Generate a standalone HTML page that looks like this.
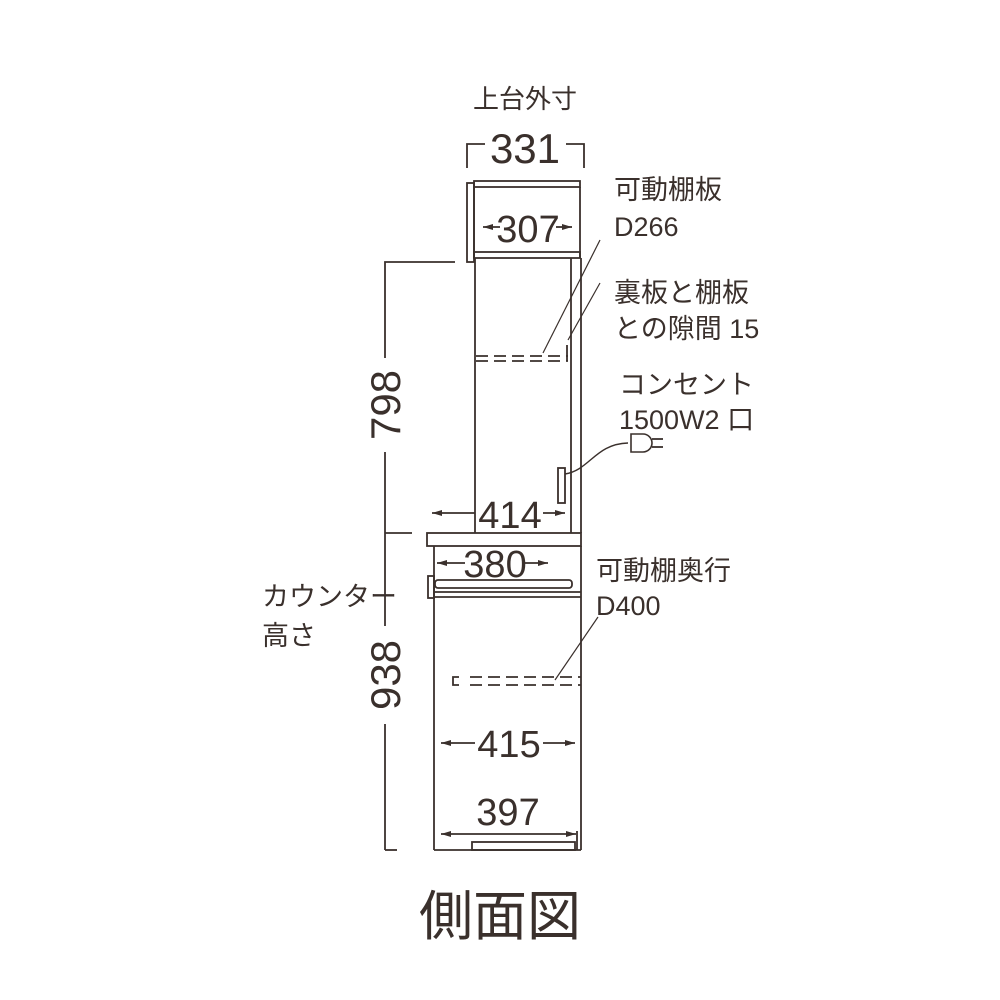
<!DOCTYPE html>
<html><head><meta charset="utf-8"><style>
html,body{margin:0;padding:0;background:#fff;width:1000px;height:1000px;overflow:hidden}
svg{display:block}
text{font-family:"Liberation Sans","Noto Sans CJK JP",sans-serif;fill:#3a302c}
</style></head><body>
<svg width="1000" height="1000" viewBox="0 0 1000 1000">
<defs>
<marker id="a" viewBox="0 0 10 6" refX="10" refY="3" markerWidth="10" markerHeight="6" orient="auto-start-reverse" markerUnits="userSpaceOnUse"><path d="M0,0 L10,3 L0,6z" fill="#3a302c"/></marker>
</defs>
<g stroke="#3a302c" stroke-width="1.8" fill="none">
<polyline points="467,168 467,144 485,144"/>
<polyline points="566,144 584,144 584,168"/>
<rect x="467" y="183" width="7" height="79"/>
<rect x="474" y="181" width="106" height="6"/>
<line x1="474" y1="187" x2="474" y2="258"/>
<line x1="580" y1="187" x2="580" y2="258"/>
<rect x="474" y="252" width="106" height="6"/>
<line x1="483" y1="227" x2="500" y2="227" marker-start="url(#a)"/>
<line x1="556" y1="227" x2="572" y2="227" marker-end="url(#a)"/>
<line x1="475" y1="258" x2="475" y2="533"/>
<line x1="571" y1="258" x2="571" y2="533"/>
<line x1="581" y1="258" x2="581" y2="533"/>
<line x1="476" y1="356" x2="568" y2="356" stroke-dasharray="12,6"/>
<line x1="476" y1="361" x2="568" y2="361" stroke-dasharray="12,6"/>
<polyline points="567,345 567,361"/>
<line x1="543" y1="353" x2="600" y2="240" stroke-width="1.2"/>
<line x1="568" y1="340" x2="600" y2="283" stroke-width="1.2"/>
<rect x="558" y="468" width="7" height="35"/>
<path d="M565,474 C590,470 595,444 628,443" stroke-width="1.4"/>
<path d="M631,434 L643,434 A9,9 0 0 1 643,452 L631,452 Z" stroke-width="1.6"/>
<line x1="652" y1="439" x2="663" y2="439"/>
<line x1="652" y1="447" x2="663" y2="447"/>
<line x1="432" y1="513" x2="475" y2="513" marker-start="url(#a)"/>
<line x1="543" y1="513" x2="565" y2="513" marker-end="url(#a)"/>
<rect x="427" y="533" width="154" height="13"/>
<line x1="434" y1="546" x2="434" y2="850"/>
<line x1="581" y1="546" x2="581" y2="850"/>
<line x1="434" y1="850" x2="581" y2="850"/>
<rect x="435" y="580" width="137" height="8" rx="3"/>
<line x1="434" y1="592" x2="581" y2="592"/>
<line x1="434" y1="597" x2="581" y2="597"/>
<rect x="428" y="576" width="6" height="22"/>
<line x1="437" y1="563" x2="465" y2="563" marker-start="url(#a)"/>
<line x1="525" y1="563" x2="548" y2="563" marker-end="url(#a)"/>
<polyline points="459,677 453,677 453,685 459,685"/>
<line x1="470" y1="677" x2="581" y2="677" stroke-dasharray="12,6"/>
<line x1="470" y1="685" x2="581" y2="685" stroke-dasharray="12,6"/>
<line x1="555" y1="680" x2="598" y2="617" stroke-width="1.2"/>
<line x1="441" y1="743" x2="475" y2="743" marker-start="url(#a)"/>
<line x1="543" y1="743" x2="575" y2="743" marker-end="url(#a)"/>
<line x1="441" y1="834" x2="576" y2="834" marker-start="url(#a)" marker-end="url(#a)"/>
<line x1="577" y1="831" x2="577" y2="850"/>
<rect x="472" y="842" width="103" height="8"/>
<polyline points="455,262 385,262 385,358"/>
<line x1="385" y1="452" x2="385" y2="533"/>
<line x1="385" y1="533" x2="412" y2="533"/>
<line x1="385" y1="533" x2="385" y2="626"/>
<line x1="385" y1="724" x2="385" y2="850"/>
<line x1="385" y1="850" x2="397" y2="850"/>
</g>
<text x="525" y="108" font-size="26" text-anchor="middle">上台外寸</text>
<text x="525" y="163" font-size="42" text-anchor="middle">331</text>
<text x="528" y="242" font-size="38" text-anchor="middle">307</text>
<text x="510" y="528" font-size="38" text-anchor="middle">414</text>
<text x="495" y="577" font-size="38" text-anchor="middle">380</text>
<text x="509" y="757" font-size="38" text-anchor="middle">415</text>
<text x="508" y="825" font-size="38" text-anchor="middle">397</text>
<text transform="translate(400,405) rotate(-90)" font-size="42" text-anchor="middle">798</text>
<text transform="translate(400,675) rotate(-90)" font-size="42" text-anchor="middle">938</text>
<g font-size="27">
<text x="614" y="199">可動棚板</text>
<text x="614" y="236">D266</text>
<text x="614" y="302">裏板と棚板</text>
<text x="614" y="338">との隙間 15</text>
<text x="619" y="394">コンセント</text>
<text x="619" y="429">1500W2 口</text>
<text x="596" y="580">可動棚奥行</text>
<text x="596" y="615">D400</text>
<text x="262" y="606">カウンター</text>
<text x="262" y="645">高さ</text>
</g>
<text x="500" y="935" font-size="54" text-anchor="middle">側面図</text>
</svg>
</body></html>
